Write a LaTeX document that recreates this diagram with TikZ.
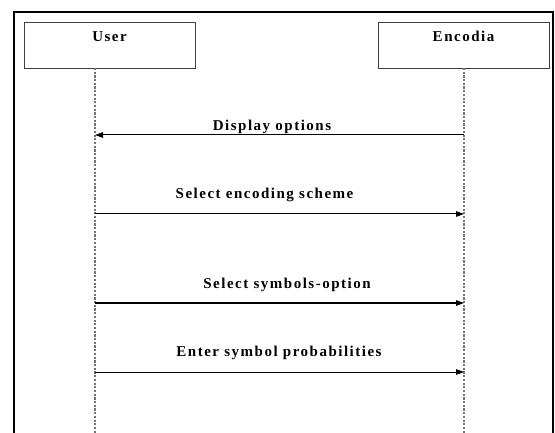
\documentclass[tikz,border=0pt]{standalone}
\usepackage{fontspec}
\setmainfont{Liberation Serif}
\usetikzlibrary{arrows.meta}
\newfontfamily\lblfont[LetterSpace=10]{Liberation Serif Bold}
\begin{document}
\begin{tikzpicture}[x=1pt,y=-1pt,
  actor/.style={draw=black!75, line width=0.8pt, minimum width=171pt, minimum height=46pt,
     inner ysep=7pt, text height=12pt, text depth=19pt, font=\lblfont\fontsize{15}{15}\selectfont},
  life/.style={draw=black!55, line width=1.3pt, dash pattern=on 2.2pt off 1.5pt},
  msg/.style={draw=black, line width=1pt, -{Triangle[length=8pt,width=5.5pt]}},
  mlbl/.style={font=\lblfont\fontsize{15}{15}\selectfont, inner sep=0pt}]
\useasboundingbox (0,0) rectangle (555,433);
\clip (0,0) rectangle (555,433);
\fill[white] (0,0) rectangle (555,433);
\draw[line width=2pt] (14,12) rectangle (553,450);
\node[actor] (user) at (109.5,45) {User};
\node[actor] (enc) at (463.5,45) {Encodia};
\coordinate (uT) at (95,68);
\coordinate (uB) at (95,433);
\coordinate (eT) at (464,68);
\coordinate (eB) at (464,433);
\draw[life] (uT) -- (uB);
\draw[life] (eT) -- (eB);
\coordinate (e1) at (464,135); \coordinate (u1) at (95,135);
\coordinate (u2) at (95,214); \coordinate (e2) at (464,214);
\coordinate (u3) at (95,303); \coordinate (e3) at (464,303);
\coordinate (u4) at (95,372); \coordinate (e4) at (464,372);
\draw[msg] (e1) -- (u1);
\draw[msg] (u2) -- (e2);
\draw[msg] (u3) -- (e3);
\draw[msg] (u4) -- (e4);
\node[mlbl] (l1) at (272,127) {Display options};
\node[mlbl] (l2) at (264.5,195) {Select encoding scheme};
\node[mlbl] (l3) at (287,285) {Select symbols-option};
\node[mlbl] (l4) at (279,353) {Enter symbol probabilities};
\end{tikzpicture}
\end{document}
